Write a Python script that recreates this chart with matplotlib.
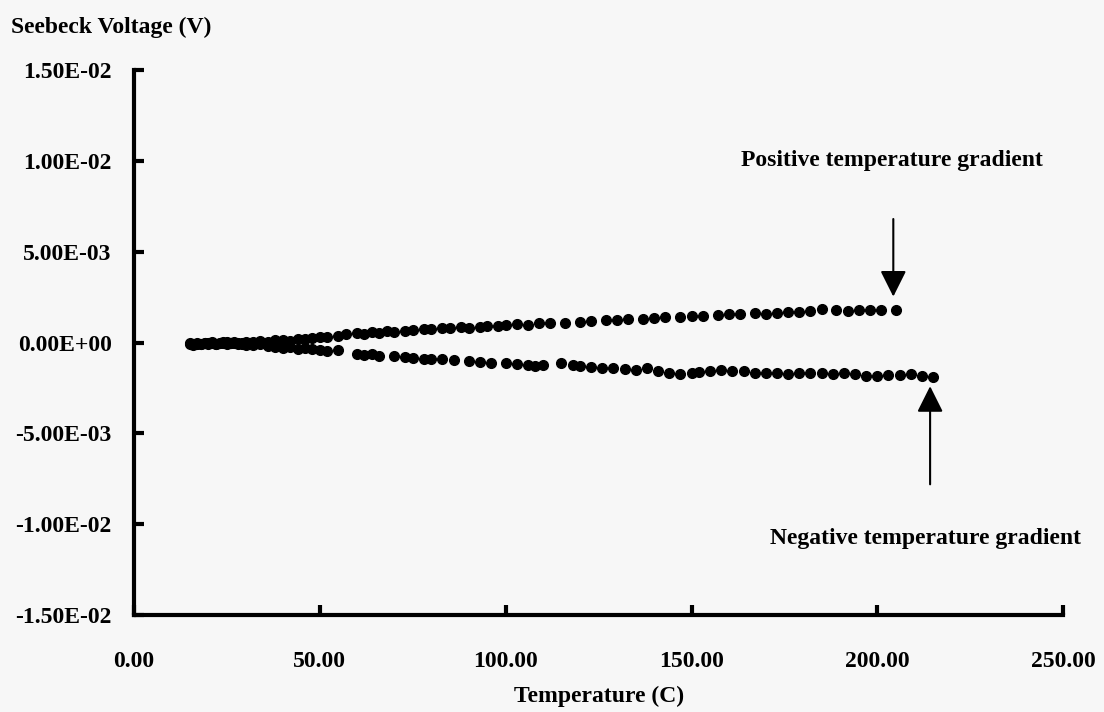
import numpy as np
import matplotlib
matplotlib.use('Agg')
import matplotlib.pyplot as plt

plt.rcParams['font.family'] = ['Liberation Serif', 'DejaVu Serif']
plt.rcParams['font.weight'] = 'bold'

# positive temperature gradient (T in C, voltage in mV)
pos_T = [15, 16, 17, 18, 19, 20, 21, 22, 23, 24, 25, 26, 27, 28, 29, 30, 32, 34, 36, 38,
         40, 42, 44, 46, 48, 50, 52, 55, 57, 60, 62, 64, 66, 68, 70, 73, 75, 78, 80, 83,
         85, 88, 90, 93, 95, 98, 100, 103, 106, 109, 112, 116, 120, 123, 127, 130, 133, 137, 140, 143,
         147, 150, 153, 157, 160, 163, 167, 170, 173, 176, 179, 182, 185, 189, 192, 195, 198, 201, 205]
pos_mv = [-0.10, -0.12, -0.08, -0.10, -0.05, -0.08, -0.02, -0.06, 0.00, -0.04, 0.02, -0.03, 0.05, 0.00, -0.02, 0.04, 0.02, 0.08, 0.05, 0.12,
          0.15, 0.10, 0.20, 0.22, 0.25, 0.28, 0.30, 0.38, 0.45, 0.50, 0.48, 0.60, 0.55, 0.62, 0.58, 0.65, 0.68, 0.72, 0.75, 0.80,
          0.78, 0.85, 0.82, 0.88, 0.90, 0.92, 0.95, 1.00, 0.98, 1.08, 1.05, 1.10, 1.15, 1.20, 1.22, 1.25, 1.28, 1.30, 1.35, 1.40,
          1.42, 1.45, 1.48, 1.50, 1.55, 1.58, 1.62, 1.60, 1.65, 1.68, 1.70, 1.72, 1.85, 1.78, 1.75, 1.80, 1.78, 1.82, 1.80]

# negative temperature gradient
neg_T = [15, 16, 17, 18, 19, 20, 21, 22, 23, 24, 25, 26, 27, 28, 29, 30, 32, 34, 36, 38,
         40, 42, 44, 46, 48, 50, 52, 55, 60, 62, 64, 66, 70, 73, 75, 78, 80, 83, 86, 90,
         93, 96, 100, 103, 106, 108, 110, 115, 118, 120, 123, 126, 129, 132, 135, 138, 141, 144, 147, 150,
         152, 155, 158, 161, 164, 167, 170, 173, 176, 179, 182, 185, 188, 191, 194, 197, 200, 203, 206, 209, 212, 215]
neg_mv = [-0.05, -0.10, -0.02, -0.08, 0.00, -0.05, 0.02, -0.06, -0.03, 0.03, -0.08, -0.04, 0.00, -0.10, -0.06, -0.12, -0.15, -0.08, -0.18, -0.22,
          -0.30, -0.25, -0.35, -0.32, -0.38, -0.40, -0.45, -0.42, -0.65, -0.70, -0.62, -0.72, -0.75, -0.80, -0.85, -0.88, -0.90, -0.92, -0.95, -1.00,
          -1.05, -1.10, -1.12, -1.20, -1.25, -1.28, -1.22, -1.15, -1.25, -1.28, -1.35, -1.38, -1.40, -1.45, -1.50, -1.40, -1.55, -1.65, -1.75, -1.70,
          -1.60, -1.55, -1.50, -1.55, -1.58, -1.65, -1.70, -1.68, -1.72, -1.68, -1.65, -1.68, -1.72, -1.70, -1.75, -1.85, -1.82, -1.80, -1.78, -1.75, -1.82, -1.90]

xticks = [0, 50, 100, 150, 200, 250]
yticks = [-0.015, -0.01, -0.005, 0.0, 0.005, 0.01, 0.015]
ytick_labels = ['-1.50E-02', '-1.00E-02', '-5.00E-03', '0.00E+00', '5.00E-03', '1.00E-02', '1.50E-02']

bg = '#f7f7f7'
fs = 17
fig = plt.figure(figsize=(11.04, 7.12), dpi=100, facecolor=bg)
ax = fig.add_axes([0.1214, 0.136, 0.8416, 0.7657], facecolor=bg)

ax.plot(pos_T, np.array(pos_mv) * 1e-3, 'o', color='black', ms=7, mec='black')
ax.plot(neg_T, np.array(neg_mv) * 1e-3, 'o', color='black', ms=7, mec='black')

ax.set_xlim(0, 250)
ax.set_ylim(-0.015, 0.015)
ax.set_xticks(xticks)
ax.set_xticklabels(['%.2f' % v for v in xticks])
ax.set_yticks(yticks)
ax.set_yticklabels(ytick_labels)
ax.tick_params(direction='in', length=7, width=3, labelsize=fs)
ax.tick_params(axis='y', pad=16)
ax.tick_params(axis='x', pad=26)
for s in ['top', 'right']:
    ax.spines[s].set_visible(False)
for s in ['left', 'bottom']:
    ax.spines[s].set_linewidth(3)

ax.set_xlabel('Temperature (C)', fontsize=fs, fontweight='bold', labelpad=10)
fig.text(0.010, 0.977, 'Seebeck Voltage (V)', fontsize=fs, fontweight='bold', va='top', ha='left')

arrow = dict(arrowstyle='-|>,head_width=0.4,head_length=0.8', mutation_scale=20,
             color='black', lw=1.5, shrinkA=0, shrinkB=0)
ax.annotate('', xy=(204.3, 0.00253), xytext=(204.3, 0.0068), arrowprops=arrow)
ax.text(204, 0.0100, 'Positive temperature gradient', fontsize=fs, fontweight='bold', ha='center', va='center')
ax.annotate('', xy=(214.2, -0.0024), xytext=(214.2, -0.0078), arrowprops=arrow)
ax.text(213, -0.0108, 'Negative temperature gradient', fontsize=fs, fontweight='bold', ha='center', va='center')

fig.savefig('out.png', dpi=100, facecolor=bg)
